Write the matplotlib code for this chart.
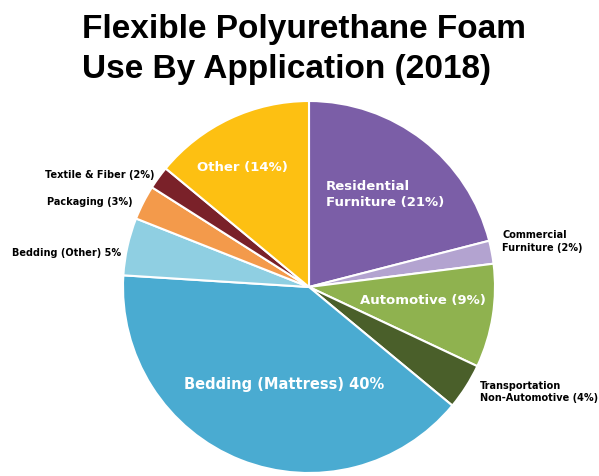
import matplotlib
matplotlib.use("Agg")
import matplotlib.pyplot as plt

categories = ["Residential Furniture", "Commercial Furniture", "Automotive",
              "Transportation Non-Automotive", "Bedding (Mattress)", "Bedding (Other)",
              "Packaging", "Textile & Fiber", "Other"]
values = [21, 2, 9, 4, 40, 5, 3, 2, 14]
colors = ["#7B5EA7", "#B3A3D0", "#8FB24F", "#4A5F2A", "#4AABD1", "#8FCFE2",
          "#F39A4B", "#7A2129", "#FDC012"]

inner_labels = ["Residential\nFurniture (21%)", None, "Automotive (9%)", None,
                "Bedding (Mattress) 40%", None, None, None, "Other (14%)"]
outer_labels = [None, "Commercial\nFurniture (2%)", None,
                "Transportation\nNon-Automotive (4%)", None,
                "Bedding (Other) 5%", "Packaging (3%)", "Textile & Fiber (2%)", None]

plt.rcParams['font.family'] = ['DejaVu Sans']

W, H = 599, 477
fig = plt.figure(figsize=(W / 100, H / 100), dpi=100)
cx, cy, R = 309, 288, 186
ax = fig.add_axes([(cx - R) / W, (H - cy - R) / H, 2 * R / W, 2 * R / H])
ax.pie(values, colors=colors, startangle=90, counterclock=False, radius=1,
       wedgeprops=dict(edgecolor="white", linewidth=1.5))
ax.set_xlim(-1, 1)
ax.set_ylim(-1, 1)
ax.set_aspect('equal')
ax.axis('off')

# inner labels (white)
ax.text(-0.36, 0.65, inner_labels[8], color="white", fontsize=9.5, fontweight="bold",
        ha="center", va="center")
ax.text(0.09, 0.50, inner_labels[0], color="white", fontsize=9.5, fontweight="bold",
        ha="left", va="center", linespacing=1.3)
ax.text(0.61, -0.065, inner_labels[2], color="white", fontsize=9.5, fontweight="bold",
        ha="center", va="center")
ax.text(-0.134, -0.52, inner_labels[4], color="white", fontsize=10.5, fontweight="bold",
        ha="center", va="center")

# outer labels (black)
ax.text(1.04, 0.25, outer_labels[1], color="black", fontsize=7, fontweight="bold",
        ha="left", va="center", linespacing=1.3, clip_on=False)
ax.text(0.92, -0.56, outer_labels[3], color="black", fontsize=7, fontweight="bold",
        ha="left", va="center", linespacing=1.3, clip_on=False)
ax.text(-1.01, 0.19, outer_labels[5], color="black", fontsize=7, fontweight="bold",
        ha="right", va="center", clip_on=False)
ax.text(-0.95, 0.46, outer_labels[6], color="black", fontsize=7, fontweight="bold",
        ha="right", va="center", clip_on=False)
ax.text(-0.83, 0.61, outer_labels[7], color="black", fontsize=7, fontweight="bold",
        ha="right", va="center", clip_on=False)

fig.text(82 / W, 1 - 38 / H, "Flexible Polyurethane Foam",
         fontsize=24, fontweight="bold", family="Liberation Sans", ha="left", va="baseline")
fig.text(82 / W, 1 - 78 / H, "Use By Application (2018)",
         fontsize=24, fontweight="bold", family="Liberation Sans", ha="left", va="baseline")

fig.savefig("out.png", dpi=100)
